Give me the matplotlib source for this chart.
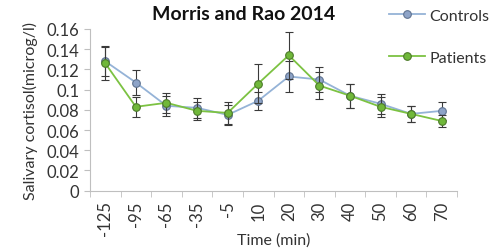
import matplotlib.pyplot as plt
from matplotlib.ticker import FuncFormatter, FixedLocator

# data
times = ['-125', '-95', '-65', '-35', '-5', '10', '20', '30', '40', '50', '60', '70']
controls = [0.128, 0.107, 0.084, 0.082, 0.075, 0.089, 0.113, 0.110, 0.094, 0.086, 0.076, 0.079]
controls_err = [0.015, 0.012, 0.010, 0.010, 0.010, 0.009, 0.015, 0.012, 0.012, 0.010, 0.008, 0.009]
patients = [0.126, 0.083, 0.087, 0.079, 0.077, 0.106, 0.134, 0.104, 0.094, 0.083, 0.076, 0.069]
patients_err = [0.016, 0.010, 0.010, 0.009, 0.011, 0.019, 0.023, 0.013, 0.012, 0.010, 0.008, 0.006]

plt.rcParams['font.family'] = ['Lato', 'DejaVu Sans']
grey = '#BFBFBF'

fig = plt.figure(figsize=(4.95, 2.53), dpi=100)
ax = fig.add_axes([90/495, 1-191.7/253, (457-90)/495, (191.7-30)/253])

x = list(range(len(times)))
ax.errorbar(x, controls, yerr=controls_err, color='#95B3D7', lw=1.3,
            marker='o', ms=5.5, mfc='#8EA4C8', mec='#5F7391', mew=0.8,
            ecolor='#3A3A3A', elinewidth=0.8, capsize=3, capthick=0.8,
            label='Controls', zorder=3)
ax.errorbar(x, patients, yerr=patients_err, color='#7CC242', lw=1.3,
            marker='o', ms=5.5, mfc='#70B83A', mec='#4C7A2A', mew=0.8,
            ecolor='#3A3A3A', elinewidth=0.8, capsize=3, capthick=0.8,
            label='Patients', zorder=4)

ax.set_xlim(-0.5, len(times) - 0.5)
ax.set_ylim(0, 0.16)
ax.set_yticks([i * 0.02 for i in range(9)])
ax.yaxis.set_major_formatter(FuncFormatter(lambda v, p: '%g' % round(v, 2)))
ax.set_xticks(x)
ax.set_xticklabels(times, rotation=90)
ax.xaxis.set_minor_locator(FixedLocator([i - 0.5 for i in range(len(times) + 1)]))
ax.tick_params(axis='x', which='major', length=0, labelsize=12, pad=7, colors='#333333')
ax.tick_params(axis='x', which='minor', length=4, color=grey)
ax.tick_params(axis='y', length=4, color=grey, labelsize=12, labelcolor='#333333')

for s in ['top', 'right']:
    ax.spines[s].set_visible(False)
for s in ['left', 'bottom']:
    ax.spines[s].set_color(grey)

ax.set_xlabel('Time (min)', fontsize=11.5, color='#333333', labelpad=-2)
ax.set_ylabel('Salivary cortisol(microg/l)', fontsize=11.5, color='#333333', labelpad=6)

fig.text(244/495, 1-14/253, 'Morris and Rao 2014', ha='center', va='center',
         fontsize=14, fontweight='bold', color='#111111')

h, l = ax.get_legend_handles_labels()
h = [hh[0] for hh in h]
fig.legend(h, l, loc='upper left', bbox_to_anchor=(383/495, 1 - 3/253), frameon=False,
           fontsize=11.5, labelspacing=1.75, handlelength=2.2, handletextpad=0.3,
           borderaxespad=0, labelcolor='#333333')

fig.savefig('out.png', dpi=100)
